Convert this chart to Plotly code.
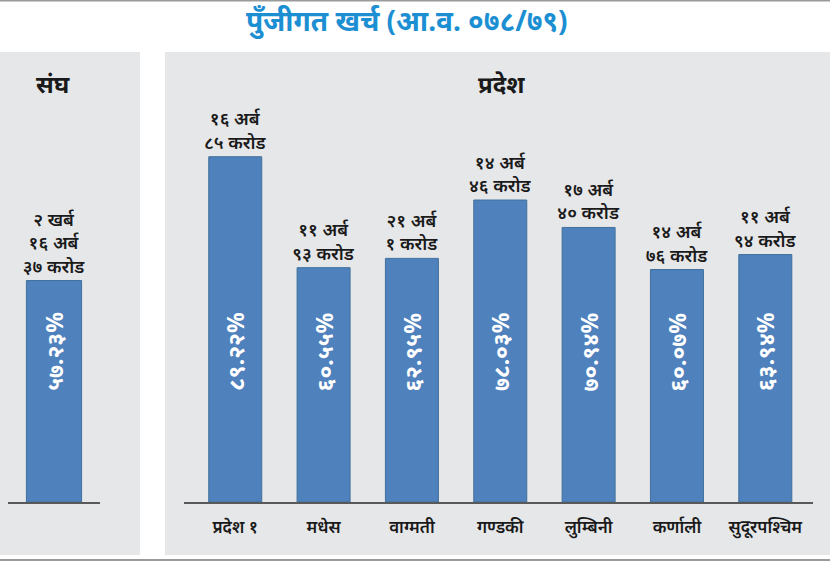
import plotly.graph_objects as go

# ---------------- data ----------------
title_text = "पुँजीगत खर्च (आ.व. ०७८/७९)"

fed_panel_title = "संघ"
fed_categories = ["संघ"]
fed_values = [57.23]
fed_pct_labels = ["५७.२३%"]
fed_amount_labels = ["२ खर्ब<br>१६ अर्ब<br>३७ करोड"]

prov_panel_title = "प्रदेश"
prov_categories = ["प्रदेश १", "मधेस", "वाग्मती", "गण्डकी", "लुम्बिनी", "कर्णाली", "सुदूरपश्चिम"]
prov_values = [89.22, 60.55, 62.95, 78.03, 70.94, 60.07, 63.94]
prov_pct_labels = ["८९.२२%", "६०.५५%", "६२.९५%", "७८.०३%", "७०.९४%", "६०.०७%", "६३.९४%"]
prov_amount_labels = ["१६ अर्ब<br>८५ करोड", "११ अर्ब<br>९३ करोड", "२१ अर्ब<br>१ करोड",
                      "१४ अर्ब<br>४६ करोड", "१७ अर्ब<br>४० करोड", "१४ अर्ब<br>७६ करोड",
                      "११ अर्ब<br>९४ करोड"]

# ---------------- style ----------------
W, H = 830, 562
BAR = "#4f81bd"
BAR_LINE = "#41719c"
PANEL = "#e6e7e9"
AXIS = "#595959"
TITLE_BLUE = "#1c8fd3"
FONT = "Noto Sans, DejaVu Sans, sans-serif"
PCT_Y = 38.8  # data position of the rotated percentage labels

def px(x):
    return x / W

def py(y):
    return 1 - y / H

fig = go.Figure()

amount_font = dict(size=18, color="#1a1a1a", family=FONT, weight=600)

fig.add_trace(go.Bar(
    x=fed_categories, y=fed_values, xaxis="x", yaxis="y",
    marker=dict(color=BAR, line=dict(color=BAR_LINE, width=1)),
    text=fed_amount_labels, textposition="outside", constraintext="none",
    textfont=amount_font,
    cliponaxis=False, hoverinfo="skip", showlegend=False,
))
fig.add_trace(go.Bar(
    x=prov_categories, y=prov_values, xaxis="x2", yaxis="y2",
    marker=dict(color=BAR, line=dict(color=BAR_LINE, width=1)),
    text=prov_amount_labels, textposition="outside", constraintext="none",
    textfont=amount_font,
    cliponaxis=False, hoverinfo="skip", showlegend=False,
))

annotations = []
for cat, lab in zip(fed_categories, fed_pct_labels):
    annotations.append(dict(x=cat, y=PCT_Y, xref="x", yref="y", text="<b>%s</b>" % lab,
                            textangle=-90, showarrow=False,
                            font=dict(size=23, color="white", family=FONT)))
for cat, lab in zip(prov_categories, prov_pct_labels):
    annotations.append(dict(x=cat, y=PCT_Y, xref="x2", yref="y2", text="<b>%s</b>" % lab,
                            textangle=-90, showarrow=False,
                            font=dict(size=23, color="white", family=FONT)))

# titles
annotations.append(dict(x=px(407), y=py(20), xref="paper", yref="paper",
                        xanchor="center", yanchor="middle",
                        text="<b>%s</b>" % title_text, showarrow=False,
                        font=dict(size=28, color=TITLE_BLUE, family=FONT)))
annotations.append(dict(x=px(53), y=py(84), xref="paper", yref="paper",
                        xanchor="center", yanchor="middle",
                        text="<b>%s</b>" % fed_panel_title, showarrow=False,
                        font=dict(size=24, color="#1a1a1a", family=FONT)))
annotations.append(dict(x=px(501), y=py(84), xref="paper", yref="paper",
                        xanchor="center", yanchor="middle",
                        text="<b>%s</b>" % prov_panel_title, showarrow=False,
                        font=dict(size=24, color="#1a1a1a", family=FONT)))

shapes = [
    dict(type="rect", xref="paper", yref="paper", x0=px(0), x1=px(140), y0=py(555), y1=py(52),
         fillcolor=PANEL, line=dict(width=0), layer="below"),
    dict(type="rect", xref="paper", yref="paper", x0=px(165), x1=px(830), y0=py(555), y1=py(52),
         fillcolor=PANEL, line=dict(width=0), layer="below"),
    dict(type="line", xref="paper", yref="paper", x0=0, x1=1, y0=py(560), y1=py(560),
         line=dict(color="#9a9a9a", width=2)),
    dict(type="line", xref="paper", yref="paper", x0=0, x1=1, y0=py(0.5), y1=py(0.5),
         line=dict(color="#9a9a9a", width=2)),
]

ydom = [py(502), py(115)]

fig.update_layout(
    width=W, height=H,
    margin=dict(l=0, r=0, t=0, b=0),
    paper_bgcolor="white", plot_bgcolor="rgba(0,0,0,0)",
    barmode="group", bargap=0.4,
    xaxis=dict(domain=[px(8), px(100)], range=[-0.5, 0.5], showticklabels=False,
               showline=True, linecolor=AXIS, linewidth=1.5, showgrid=False,
               zeroline=False, ticks="", fixedrange=True),
    yaxis=dict(domain=ydom, range=[0, 100], visible=False, fixedrange=True),
    xaxis2=dict(domain=[px(184), px(813)], range=[-0.58, 6.54], anchor="y2",
                showline=True, linecolor=AXIS, linewidth=1.5, showgrid=False,
                zeroline=False, ticks="", ticklabelstandoff=9,
                tickfont=dict(size=17, color="#1a1a1a", family=FONT, weight=600)),
    yaxis2=dict(domain=ydom, range=[0, 100], visible=False, anchor="x2", fixedrange=True),
    annotations=annotations,
    shapes=shapes,
    font=dict(family=FONT),
)

fig.write_html("out.html")
